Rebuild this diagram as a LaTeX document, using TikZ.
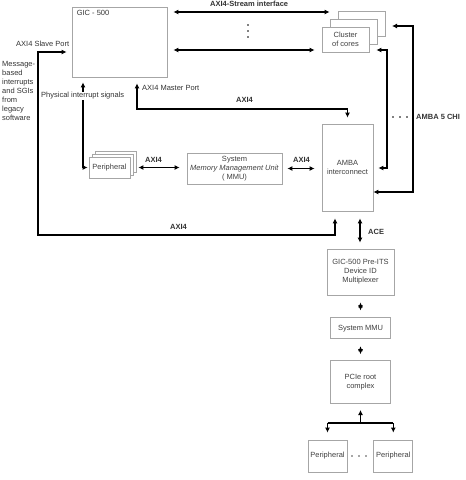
\documentclass[tikz,border=0pt]{standalone}
\usepackage{fontspec}
\setmainfont{Liberation Sans}
\usetikzlibrary{arrows.meta,positioning,shadows}

\tikzset{
  block/.style={draw=gray!70, line width=0.8pt, fill=white, text=black!75, align=center,
                font=\fontsize{7.5}{9}\selectfont, inner sep=1pt},
  conn/.style={<->, line width=1.4pt},
  lbl/.style={inner sep=0pt, anchor=west, text=black!80, font=\fontsize{7.5}{9}\selectfont},
  bus/.style={lbl, font=\fontsize{7.5}{9}\selectfont\bfseries},
}

\begin{document}
\begin{tikzpicture}[x=1pt,y=-1pt,>={Latex[length=5pt,width=5pt]}]
        \useasboundingbox (0,0) rectangle (466,480);

        % blocks
        \node[block, minimum width=95pt, minimum height=70pt,
              label={[lbl, anchor=north west, xshift=5pt, yshift=-3pt]north west:GIC - 500}] (gic) at (119.5,42) {};
        \node[block, minimum width=47pt, minimum height=25pt,
              copy shadow={shadow xshift=16pt, shadow yshift=16pt, draw=gray!70, line width=0.8pt},
              copy shadow={shadow xshift=8pt, shadow yshift=8pt, draw=gray!70, line width=0.8pt}] (cluster) at (345.5,39.5) {Cluster\\of cores};
        \node[block, minimum width=41pt, minimum height=21pt,
              copy shadow={shadow xshift=6pt, shadow yshift=6pt, draw=gray!70, line width=0.8pt},
              copy shadow={shadow xshift=3pt, shadow yshift=3pt, draw=gray!70, line width=0.8pt}] (periph) at (109.5,167.5) {Peripheral};
        \node[block, minimum width=95pt, minimum height=31pt] (mmu) at (234.5,168.5) {System\\\textit{Memory Management Unit}\\( MMU)};
        \node[block, minimum width=51pt, minimum height=87pt] (amba) at (347.5,167.5) {AMBA\\interconnect};
        \node[block, minimum width=67pt, minimum height=46pt] (preits) at (360.5,272) {GIC-500 Pre-ITS\\Device ID\\Multiplexer};
        \node[block, minimum width=60pt, minimum height=21pt] (smmu) [below=22pt of preits] {System MMU};
        \node[block, minimum width=60pt, minimum height=43pt] (pcie) [below=21pt of smmu] {PCIe root\\complex};
        \node[block, minimum width=39pt, minimum height=32pt] (per1) at (327.5,456) {Peripheral};
        \node[block, minimum width=39pt, minimum height=32pt] (per2) [right=26pt of per1] {Peripheral};
        \coordinate (chi) at (392,26);

        % connectors
        \draw[conn, shorten <=6pt, shorten >=-8pt] (gic.east |- 0,12) -- (cluster.west |- 0,12);
        \draw[conn, shorten <=6pt, shorten >=7pt] (gic.east |- 0,50) -- (cluster.west |- 0,50);
        \draw[conn, shorten <=7pt, shorten >=5pt] (335,0 |- amba.south) -- (335,235) -- (38,235) -- (38,52) -- (gic.west |- 0,52);
        \draw[conn, shorten <=6pt, shorten >=6pt] (137,0 |- gic.south) -- (137,109) -- (amba.north |- 0,109) -- (amba.north);
        \draw[conn, shorten <=5pt, shorten >=1pt] (83,0 |- gic.south) -- (83,0 |- periph.west) -- (periph.west);
        \draw[conn, shorten <=8pt, shorten >=7pt] (periph.east) -- (periph.east -| mmu.west);
        \draw[conn, shorten <=5pt, shorten >=7pt] (mmu.east) -- (mmu.east -| amba.west);
        \draw[conn, shorten <=7pt, shorten >=5pt] (cluster.east |- 0,50) -- (387,50) -- (387,168) -- (amba.east |- 0,168);
        \draw[conn] (chi) -- (413,26) -- (413,192) -- (amba.east |- 0,192);
        \draw[conn, shorten <=7pt, shorten >=6pt] (360,0 |- amba.south) -- (360,0 |- preits.north);
        \draw[conn, shorten <=7pt, shorten >=7pt] (preits.south) -- (preits.south |- smmu.north);
        \draw[conn, shorten <=7pt, shorten >=6pt] (smmu.south) -- (pcie.north);
        \draw[line width=1.4pt] (per1.north |- 0,423) -- (per2.north |- 0,423);
        \draw[->, line width=1.4pt, shorten >=6pt] (pcie.south |- 0,423) -- (pcie.south);
        \draw[->, line width=1.4pt, shorten >=7pt] (per1.north |- 0,423) -- (per1.north);
        \draw[->, line width=1.4pt, shorten >=7pt] (per2.north |- 0,423) -- (per2.north);

        % dots
        \foreach \y in {25,31,37}
            \fill (248,\y) circle (0.9pt);
        \foreach \x in {393,400,407}
            \fill (\x,117) circle (0.9pt);
        \foreach \x in {352,359,366}
            \fill[black!70] (\x,456) circle (0.8pt);

        % labels
        \node[bus] (lstream) at (210,4) {AXI4-Stream interface};
        \node[lbl] (lslave) at (16,44) {AXI4 Slave Port};
        \node[lbl, anchor=north west, align=left] (lmsg) at (2,61) {Message-\\based\\interrupts\\and SGIs\\from\\legacy\\software};
        \node[lbl, fill=white, inner sep=1pt] (lphys) at (40,96) {Physical interrupt signals};
        \node[lbl] (lmaster) at (142,88) {AXI4 Master Port};
        \node[bus] (laxa) at (236,100) {AXI4};
        \node[bus] (laxb) at (145,160) {AXI4};
        \node[bus] (laxc) at (293,160) {AXI4};
        \node[bus] (laxd) at (170,227) {AXI4};
        \node[bus] (lace) at (368,232) {ACE};
        \node[bus] (lchi) at (416,117) {AMBA 5 CHI};
      \end{tikzpicture}
\end{document}
